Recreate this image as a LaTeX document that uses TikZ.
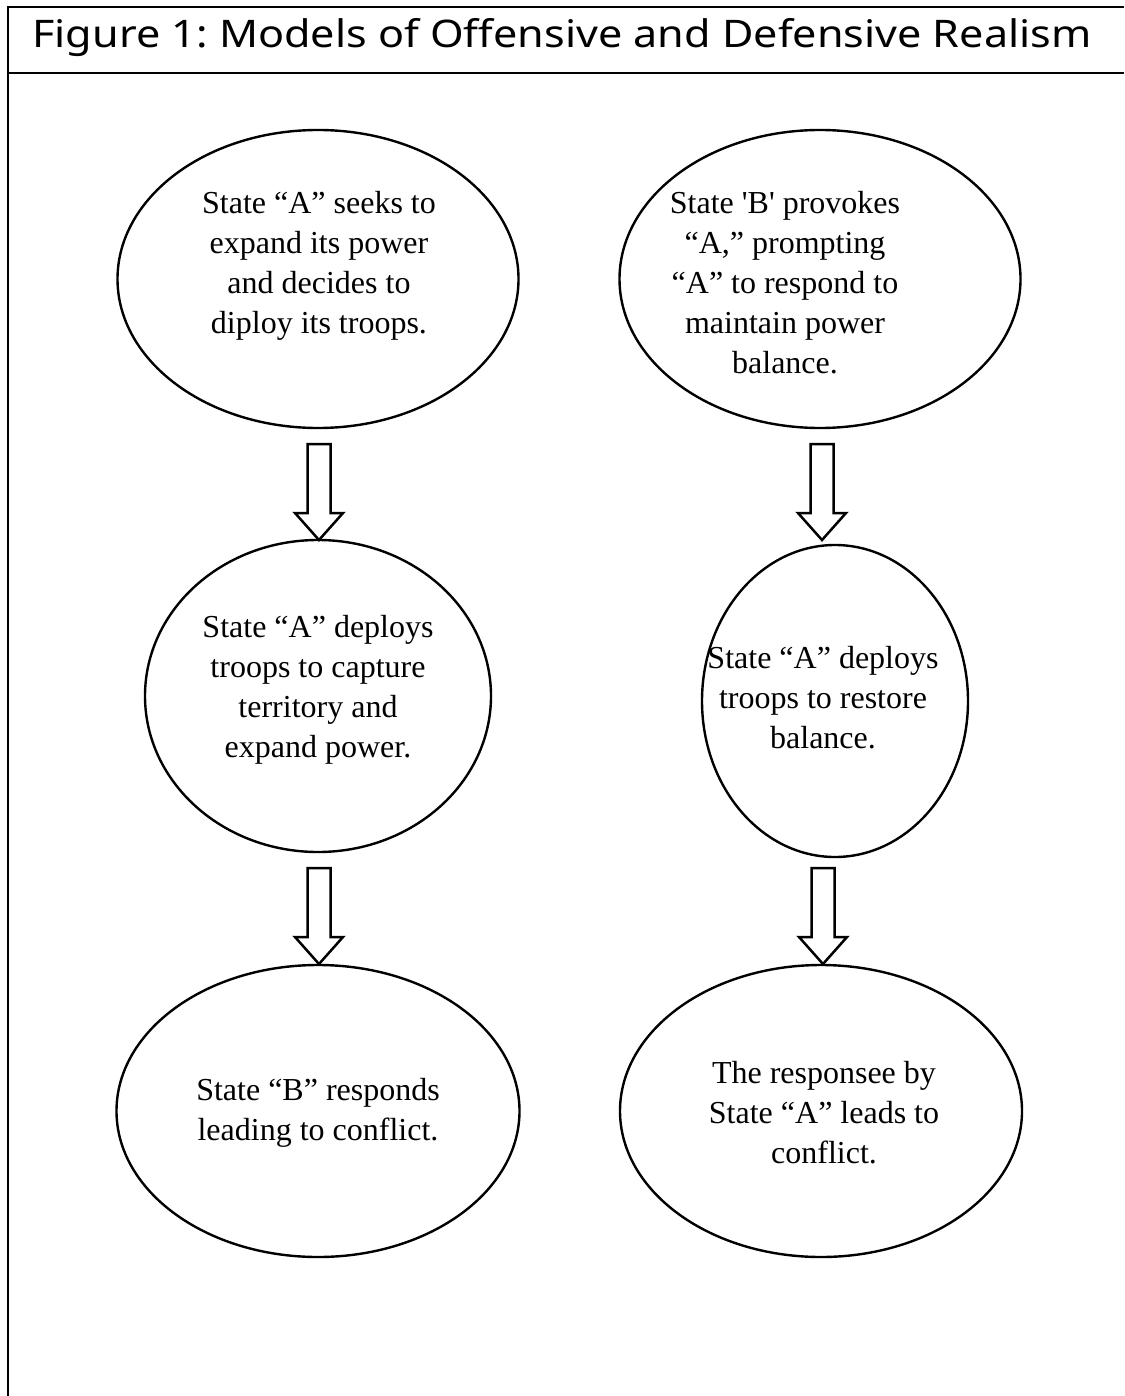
\documentclass[tikz,border=0pt]{standalone}
\usepackage{fontspec}
\setmainfont{Liberation Serif}
\newfontfamily\titlefont{Noto Sans}
\usetikzlibrary{shapes.geometric}
\frenchspacing
\tikzset{
  oval/.style={draw, line width=2.4pt, ellipse, inner sep=0pt},
  ovaltext/.style={align=center, font=\fontsize{32}{40}\selectfont, inner sep=0pt},
  barrow/.style={draw, line width=2.5pt, line join=miter, fill=white},
  frame/.style={line width=2.6pt}
}
\begin{document}
\begin{tikzpicture}[x=1pt,y=-1pt]
\useasboundingbox (0,0) rectangle (1124,1396);
% frame
\coordinate (ftl) at (8,7);
\coordinate (ftr) at (1124,7);
\coordinate (fml) at (8,73);
\coordinate (fmr) at (1124,73);
\coordinate (fbl) at (8,1396);
\draw[frame] (ftr) -- (ftl) -- (fbl);
\draw[frame] (fml) -- (fmr);
\node[inner sep=0pt, anchor=base] (title) at (562,48) {\resizebox{1059pt}{\height}{\titlefont\fontsize{38}{38}\selectfont Figure 1: Models of Offensive and Defensive Realism}};
% ellipses
\node[oval, minimum width=401pt, minimum height=298pt] (l1) at (318,279) {};
\node[oval, minimum width=401pt, minimum height=298pt] (r1) at (820,279) {};
\node[oval, minimum width=346pt, minimum height=312pt] (l2) at (318,696) {};
\node[oval, minimum width=266pt, minimum height=312pt] (r2) at (835,701) {};
\node[oval, minimum width=403pt, minimum height=292pt] (l3) at (318,1111) {};
\node[oval, minimum width=402pt, minimum height=292pt] (r3) at (821,1111) {};
% texts
\node[ovaltext] (t1) at (319,266) {State “A” seeks to\\expand its power\\and decides to\\diploy its troops.};
\node[ovaltext] (t2) at (785,283) {State \textquotesingle B\textquotesingle{} provokes\\“A,” prompting\\“A” to respond to\\maintain power\\balance.};
\node[ovaltext] (t3) at (318,690) {State “A” deploys\\troops to capture\\territory and\\expand power.};
\node[ovaltext] (t4) at (823,698) {State “A” deploys\\troops to restore\\balance.};
\node[ovaltext] (t5) at (318,1113) {State “B” responds\\leading to conflict.};
\node[ovaltext] (t6) at (824,1113) {The responsee by\\State “A” leads to\\conflict.};
% block arrows
\coordinate (a1) at (319,444);
\coordinate (a2) at (822,444);
\coordinate (a3) at (319,868);
\coordinate (a4) at (823,868);
\foreach \c in {a1,a2,a3,a4}{
  \draw[barrow] (\c) ++(-11.5,0) -- ++(0,69) -- ++(-12.5,0) -- ++(24,27) -- ++(24,-27) -- ++(-12.5,0) -- ++(0,-69) -- cycle;
}
\end{tikzpicture}
\end{document}
